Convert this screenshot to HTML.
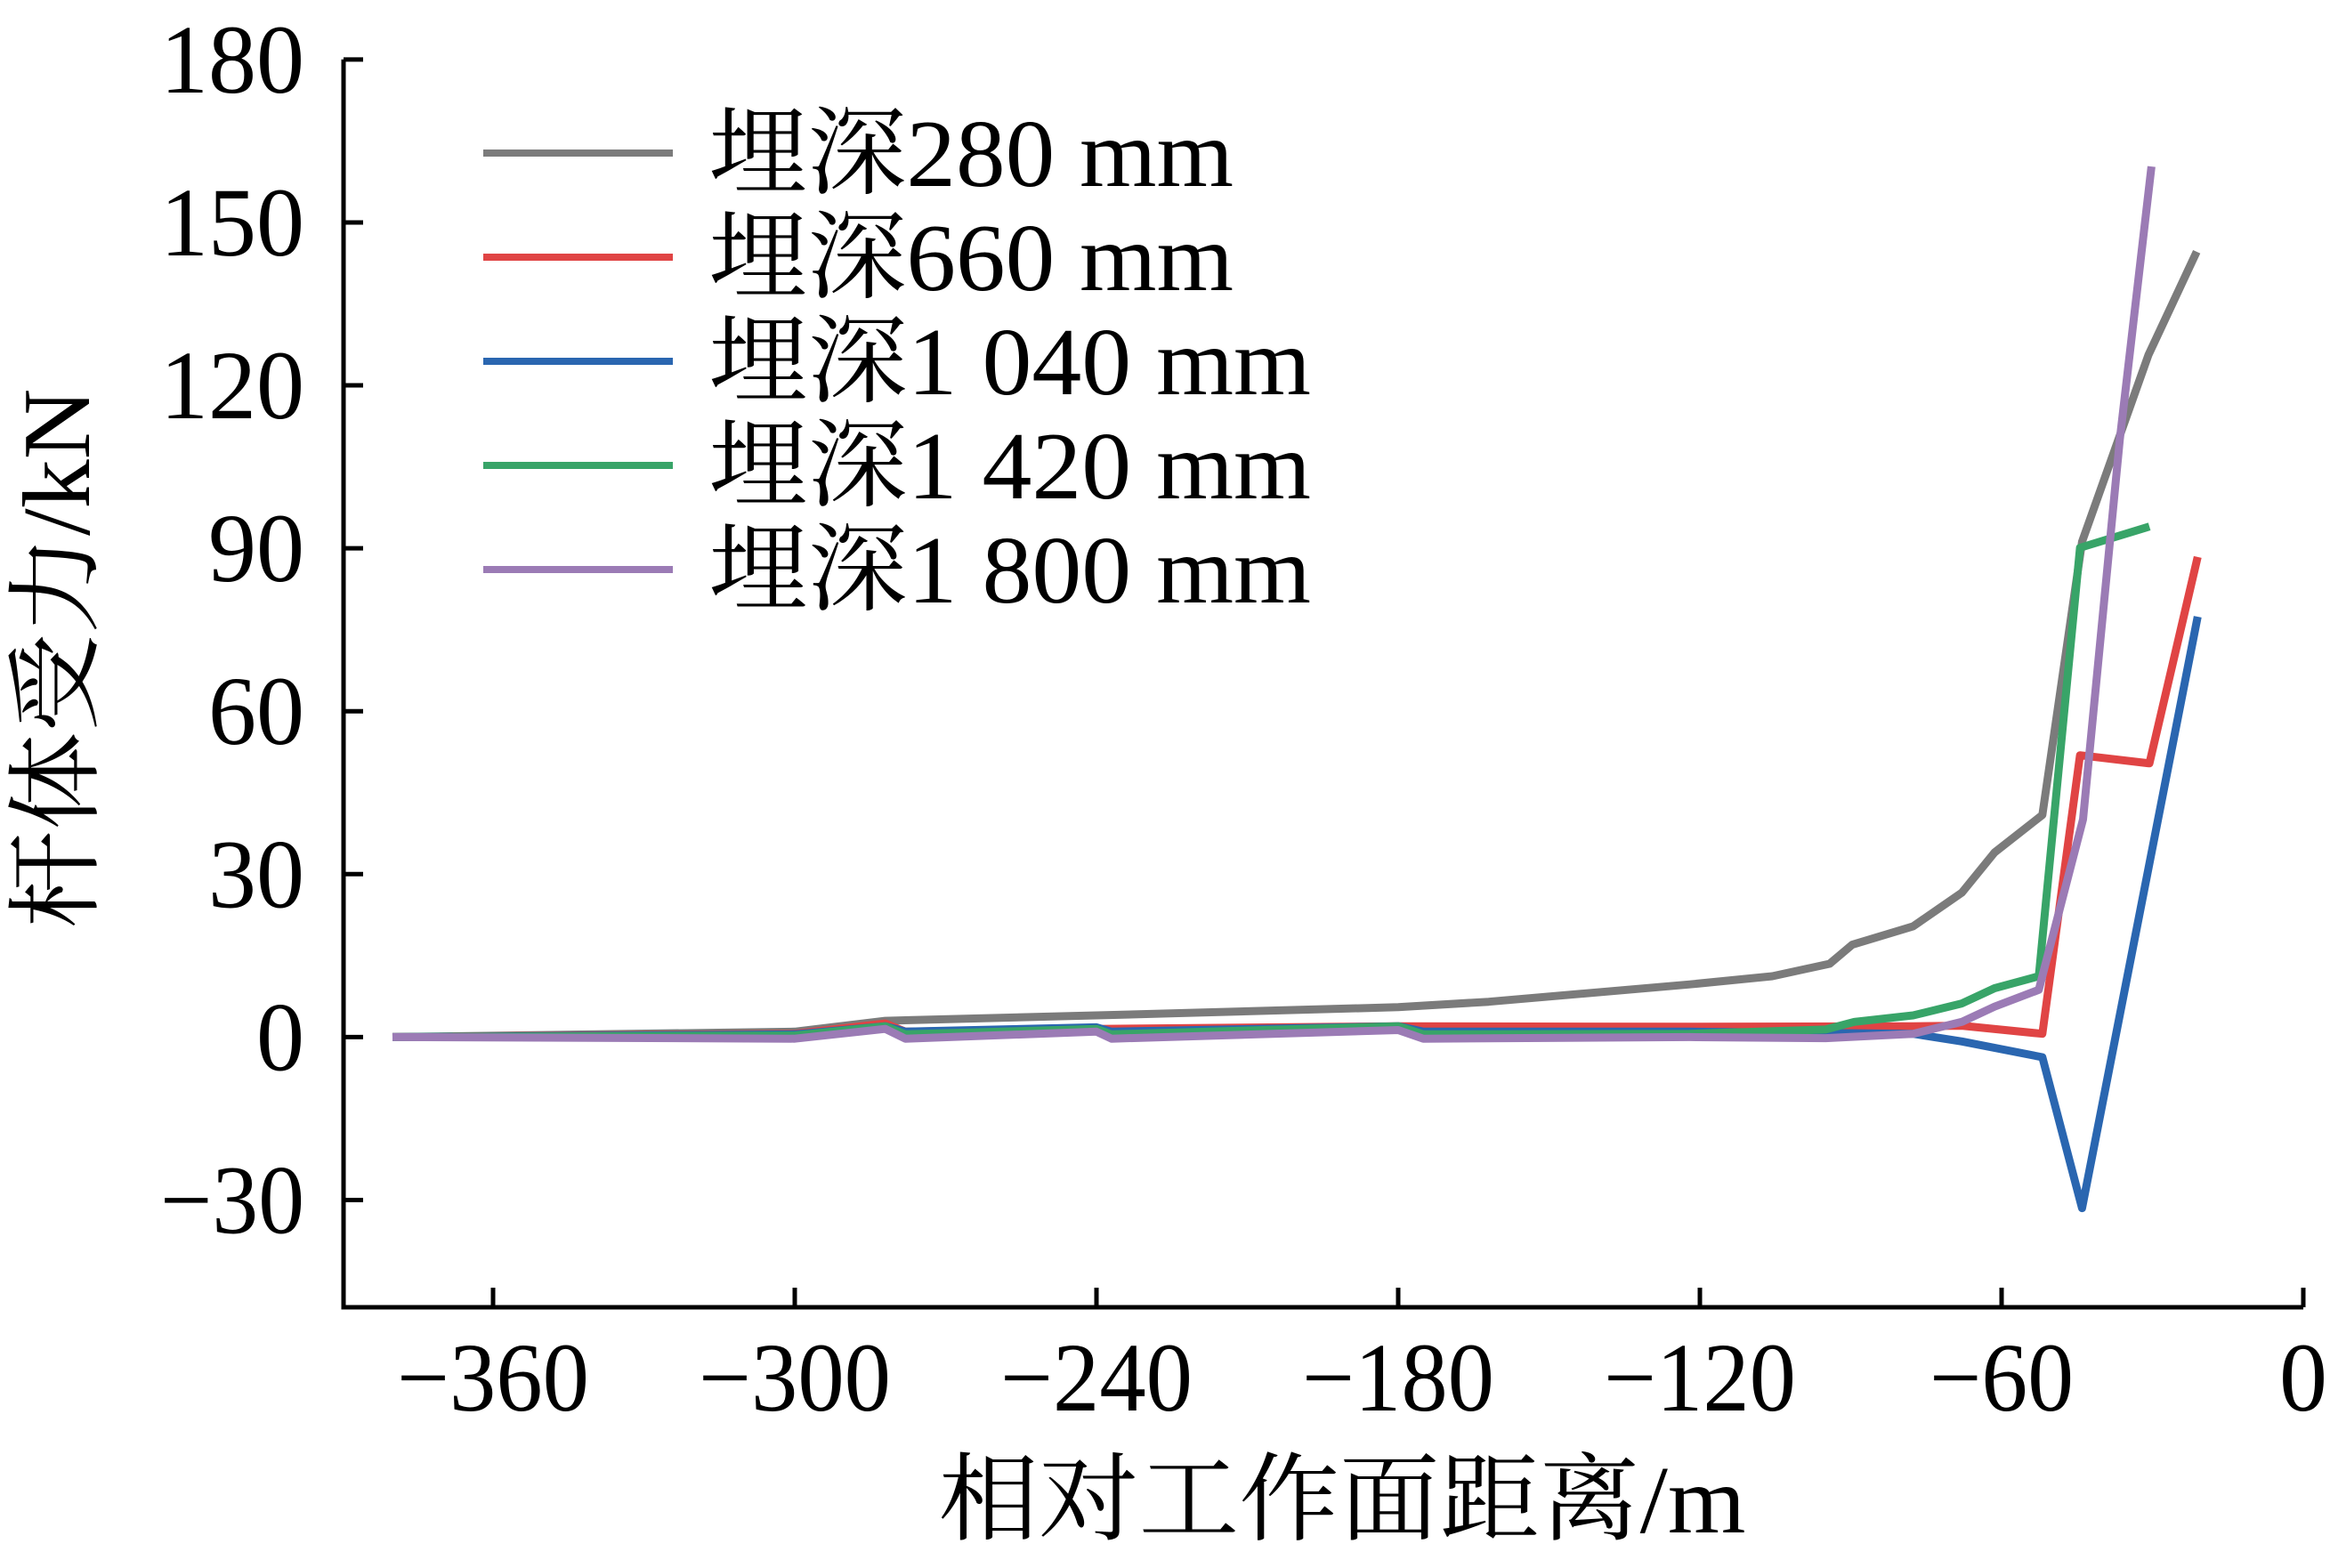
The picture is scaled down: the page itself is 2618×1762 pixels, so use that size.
<!DOCTYPE html>
<html><head><meta charset="utf-8"><style>
html,body{margin:0;padding:0;background:#fff;}
svg{display:block;}
text{font-family:"Liberation Serif","Noto Serif CJK SC",serif;fill:#000;}
</style></head><body>
<svg id="chart" width="2618" height="1762" viewBox="0 0 2618 1762" xmlns="http://www.w3.org/2000/svg">
<g id="axes"></g>
<g id="series"></g>
<g id="legend"></g>
</svg>
<script>
const xTicks = [-360, -300, -240, -180, -120, -60, 0];
const yTicks = [-30, 0, 30, 60, 90, 120, 150, 180];
const seriesNames = ["埋深280 mm", "埋深660 mm", "埋深1 040 mm", "埋深1 420 mm", "埋深1 800 mm"];
const seriesColors = ["#7b7b7b", "#e04444", "#2a66b0", "#38a468", "#9b7bb5"];
const xs280 = [-380,-300,-282,-240,-180,-162,-122,-105.6,-94.2,-89.7,-77.6,-67.9,-61.4,-51.9,-44,-30.8,-21.2];
const ys280 = [0,1,3,4,5.5,6.5,9.7,11.2,13.5,17,20.4,26.6,34,40.9,91.2,125.6,144.6];
const xs660 = [-380,-300,-282,-278,-240,-180,-122,-77.6,-67.9,-51.9,-44.4,-30.6,-21];
const ys660 = [0,0.6,2.5,1,1.5,2,1.9,2,2.1,0.6,51.9,50.4,88.4];
const xs1040 = [-380,-300,-282,-278,-240,-237,-180,-175,-122,-77.6,-67.9,-51.9,-44,-21];
const ys1040 = [0,0.5,2,1,1.8,1,2,1,1,0.6,-0.8,-3.7,-31.5,77.4];
const xs1420 = [-380,-300,-282,-278,-240,-237,-180,-175,-122,-95,-89.3,-77.6,-67.9,-61.4,-52.6,-44.4,-30.6];
const ys1420 = [0,0.3,2,0.5,1.5,0.5,2,0.5,0.6,1.4,2.8,4,6.2,9,11.2,90.1,94];
const xs1800 = [-380,-300,-282,-278,-240,-237,-180,-175,-122,-95,-77.6,-67.9,-61.4,-52.6,-43.8,-36.5,-30.2];
const ys1800 = [0,-0.3,1.5,-0.3,1,-0.3,1.3,-0.3,0,-0.2,0.6,2.8,5.6,8.7,40.1,110,160.3];
const seriesX = [xs280, xs660, xs1040, xs1420, xs1800];
const seriesY = [ys280, ys660, ys1040, ys1420, ys1800];

const NS = "http://www.w3.org/2000/svg";
const X0 = 2588, XS = 5.65, Y0 = 1165.4, YS = 6.103;
const L = 386, B = 1469, T = 66.8;
function sx(v){return X0 + v*XS;}
function sy(v){return Y0 - v*YS;}
function mk(tag, attrs, parent){const e=document.createElementNS(NS,tag);for(const k in attrs)e.setAttribute(k,attrs[k]);parent.appendChild(e);return e;}

const axes=document.getElementById('axes');
let a=mk('path',{d:`M${L},${T} V${B} H${X0}`,fill:'none',stroke:'#000','stroke-width':5},axes);


yTicks.forEach(v=>{
  const t=mk('line',{x1:L,x2:L+22,y1:sy(v),y2:sy(v),stroke:'#000','stroke-width':5},axes);
  
  
  const s=v<0?'\u2212'+(-v):String(v);
  const w=s.length*54;
  const lb=mk('text',{x:342,y:sy(v)+37,'text-anchor':'end','font-size':110,textLength:w,lengthAdjust:'spacingAndGlyphs'},axes);
  lb.textContent=s;
  
  
});
xTicks.forEach(v=>{
  const t=mk('line',{x1:sx(v),x2:sx(v),y1:B,y2:B-22,stroke:'#000','stroke-width':5},axes);
  
  
  const s=v<0?'\u2212'+(-v):String(v);
  const w=s.length*54;
  const lb=mk('text',{x:sx(v),y:1585,'text-anchor':'middle','font-size':110,textLength:w,lengthAdjust:'spacingAndGlyphs'},axes);
  lb.textContent=s;
  
  
});
let xt=mk('text',{x:1508,y:1722,'text-anchor':'middle','font-size':108,textLength:907,lengthAdjust:'spacingAndGlyphs'},axes);
xt.textContent='相对工作面距离/m';


let yt=mk('text',{x:0,y:0,'text-anchor':'middle','font-size':108,textLength:607,lengthAdjust:'spacingAndGlyphs',transform:'translate(100,740) rotate(-90)'},axes);
yt.textContent='杆体受力/kN';



const sg=document.getElementById('series');
seriesX.forEach((xsArr,i)=>{
  const d=xsArr.map((x,j)=>(j?'L':'M')+sx(x).toFixed(1)+','+sy(seriesY[i][j]).toFixed(1)).join(' ');
  const p=mk('path',{d:d,fill:'none',stroke:seriesColors[i],'stroke-width':9,'stroke-linejoin':'round'},sg);
  
  
});

const lg=document.getElementById('legend');
const legendW=[590,590,677,677,677];
seriesNames.forEach((n,i)=>{
  const y=172+i*117;
  const ln=mk('line',{x1:543,x2:756,y1:y,y2:y,stroke:seriesColors[i],'stroke-width':8},lg);
  
  
  const tx=mk('text',{x:796,y:y+37,'font-size':108,textLength:legendW[i],lengthAdjust:'spacingAndGlyphs'},lg);
  tx.textContent=n;
  
  
});
</script>
</body></html>
